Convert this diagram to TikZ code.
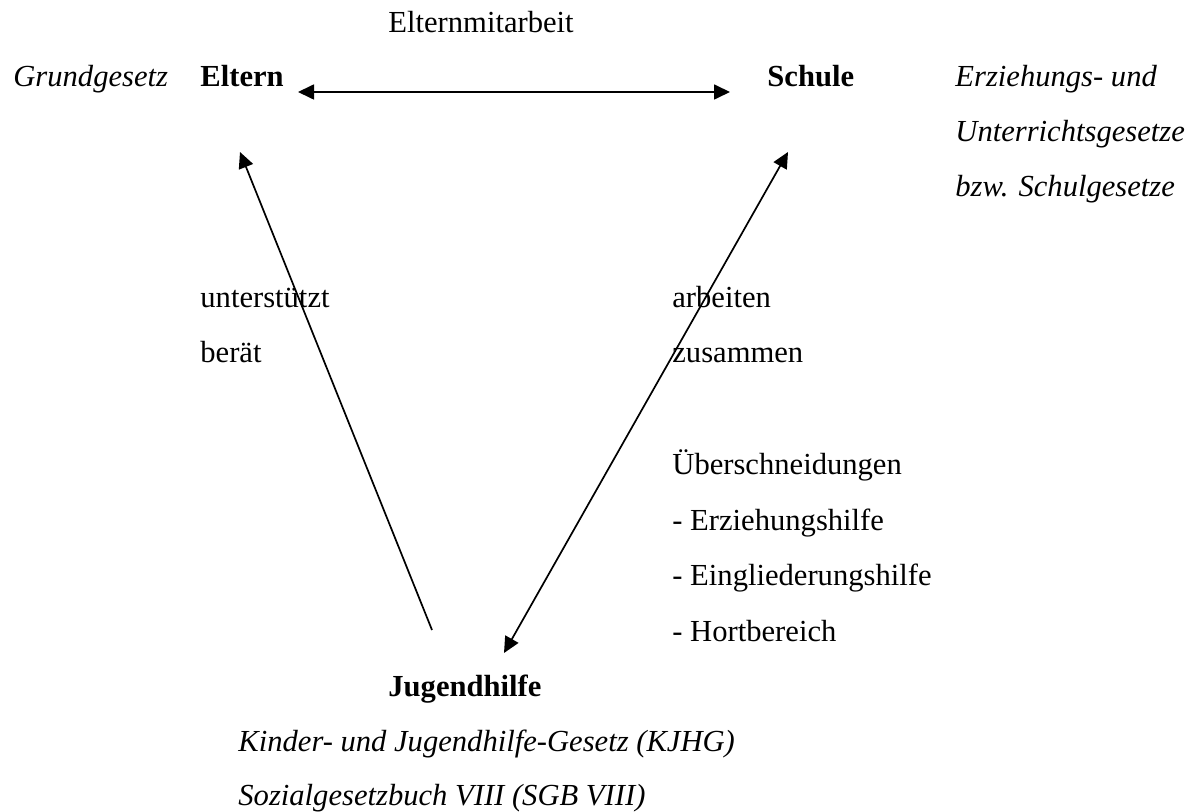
\documentclass[tikz,border=0pt]{standalone}
\usepackage{fontspec}
\setmainfont{Liberation Serif}
\usetikzlibrary{arrows.meta}
\begin{document}
\begin{tikzpicture}[x=0.5pt,y=-0.5pt,
  txt/.style={anchor=base west,inner sep=0pt,font=\fontsize{15.3}{18}\selectfont},
  law/.style={txt,font=\fontsize{15.3}{18}\selectfont\itshape},
  inst/.style={txt,font=\fontsize{15.3}{18}\selectfont\bfseries},
  conn/.style={line width=0.85pt,black},
  tip/.style={-{Triangle[length=8pt,width=7.5pt]}},
  tips/.style={{Triangle[length=8pt,width=7.5pt]}-{Triangle[length=8pt,width=7.5pt]}}]
\useasboundingbox (0,0) rectangle (1203,812);
\fill[white] (0,0) rectangle (1203,812);

% top row
\node[txt] (mit) at (388,33) {Elternmitarbeit};
\node[law] (gg) at (13,87) {Grundgesetz};
\node[inst] (eltern) at (200,87) {Eltern};
\node[inst] (schule) at (767,87) {Schule};
\node[law] (eug1) at (955,87) {Erziehungs- und};
\node[law] (eug2) at (955,142) {Unterrichtsgesetze};
\node[law] (eug3) at (955,197) {bzw. Schulgesetze};

% middle labels
\node[txt] (unt) at (200,307) {unterstützt};
\node[txt] (ber) at (200,363) {berät};
\node[txt] (arb) at (672,307) {arbeiten};
\node[txt] (zus) at (672,363) {zusammen};
\node[txt] (ueb) at (672,474) {Überschneidungen};
\node[txt] (ez) at (672,530) {- Erziehungshilfe};
\node[txt] (ei) at (672,585) {- Eingliederungshilfe};
\node[txt] (ho) at (672,641) {- Hortbereich};

% bottom
\node[inst] (jh) at (388,696) {Jugendhilfe};
\node[law] (kjhg) at (238,751) {Kinder- und Jugendhilfe-Gesetz (KJHG)};
\node[law] (sgb) at (238,805) {Sozialgesetzbuch VIII (SGB VIII)};

% connector end points
\coordinate (eR) at (298,92);
\coordinate (sL) at (730,92);
\coordinate (eB) at (240,152);
\coordinate (sB) at (788,152);
\coordinate (jL) at (432,630);
\coordinate (jR) at (504,653);

\draw[conn,tips] (eR) -- (sL);
\draw[conn,tip] (jL) -- (eB);
\draw[conn,tips] (jR) -- (sB);
\end{tikzpicture}
\end{document}
